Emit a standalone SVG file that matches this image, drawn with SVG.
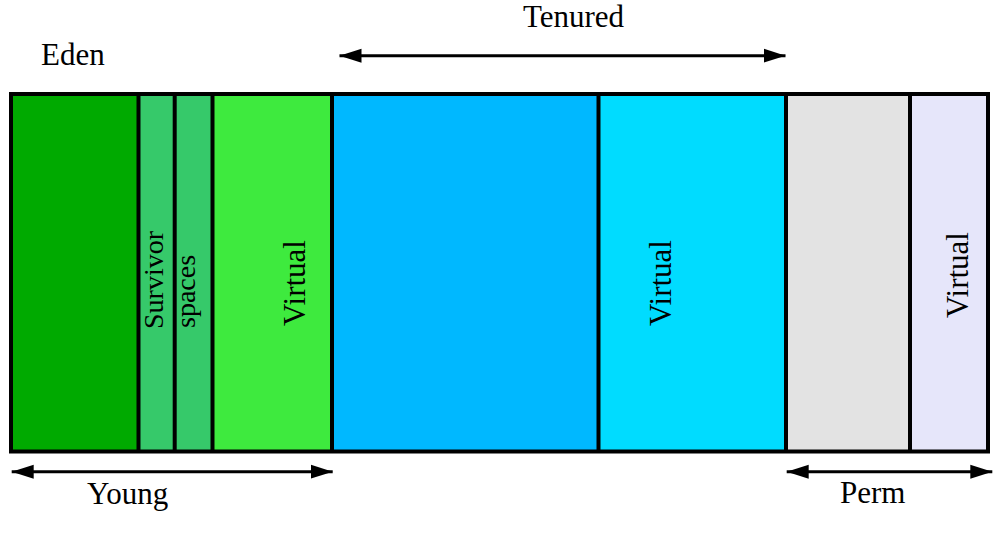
<svg xmlns="http://www.w3.org/2000/svg" width="1006" height="549" viewBox="0 0 1006 549">
<style>
  text { font-family: "Liberation Serif", "Times New Roman", serif; font-size: 31px; fill: #000; }
  .small { font-size: 28px; }
  .div { stroke: #000; stroke-width: 4; fill: none; }
  .arrow { stroke: #000; stroke-width: 3; fill: none; marker-start: url(#ah); marker-end: url(#ah); }
</style>
<defs>
  <marker id="ah" markerUnits="userSpaceOnUse" markerWidth="24" markerHeight="16" viewBox="0 -8 24 16" refX="22" refY="0" orient="auto-start-reverse">
    <path d="M0,-7 L22,0 L0,7 Z" fill="#000"/>
  </marker>
</defs>
<rect width="1006" height="549" fill="#fff"/>
<g id="eden">
  <rect x="11" y="94" width="127.5" height="357.5" fill="#00AA00"/>
  <text x="41" y="65">Eden</text>
</g>
<g id="survivor1">
  <rect x="138.5" y="94" width="36.2" height="357.5" fill="#36C96A"/>
  <text class="small" transform="translate(163,329) rotate(-90)">Survivor</text>
</g>
<g id="survivor2">
  <rect x="174.7" y="94" width="37.8" height="357.5" fill="#36C96A"/>
  <text class="small" transform="translate(194.5,328) rotate(-90)">spaces</text>
</g>
<g id="young-virtual">
  <rect x="212.5" y="94" width="119.5" height="357.5" fill="#3EEA3E"/>
  <text transform="translate(305,326) rotate(-90)">Virtual</text>
</g>
<g id="tenured">
  <rect x="332" y="94" width="266.5" height="357.5" fill="#00B8FF"/>
  <text x="523" y="27">Tenured</text>
</g>
<g id="tenured-virtual">
  <rect x="598.5" y="94" width="187.5" height="357.5" fill="#00DCFF"/>
  <text transform="translate(671,326) rotate(-90)">Virtual</text>
</g>
<g id="perm">
  <rect x="786" y="94" width="124" height="357.5" fill="#E3E3E3"/>
  <text x="840" y="503">Perm</text>
</g>
<g id="perm-virtual">
  <rect x="910" y="94" width="78" height="357.5" fill="#E6E6FA"/>
  <text transform="translate(968,318) rotate(-90)">Virtual</text>
</g>
<g id="young-label">
  <text x="87" y="504">Young</text>
</g>
<g id="borders">
  <rect class="div" x="11" y="94" width="977" height="357.5"/>
  <line class="div" x1="138.5" y1="94" x2="138.5" y2="451.5"/>
  <line class="div" x1="174.7" y1="94" x2="174.7" y2="451.5"/>
  <line class="div" x1="212.5" y1="94" x2="212.5" y2="451.5"/>
  <line class="div" x1="332" y1="94" x2="332" y2="451.5"/>
  <line class="div" x1="598.5" y1="94" x2="598.5" y2="451.5"/>
  <line class="div" x1="786" y1="94" x2="786" y2="451.5"/>
  <line class="div" x1="910" y1="94" x2="910" y2="451.5"/>
</g>
<g id="connectors">
  <line class="arrow" x1="339.5" y1="55.7" x2="785.5" y2="55.7"/>
  <line class="arrow" x1="11.7" y1="471.7" x2="332.7" y2="471.7"/>
  <line class="arrow" x1="786.7" y1="471.7" x2="992.3" y2="471.7"/>
</g>
</svg>
